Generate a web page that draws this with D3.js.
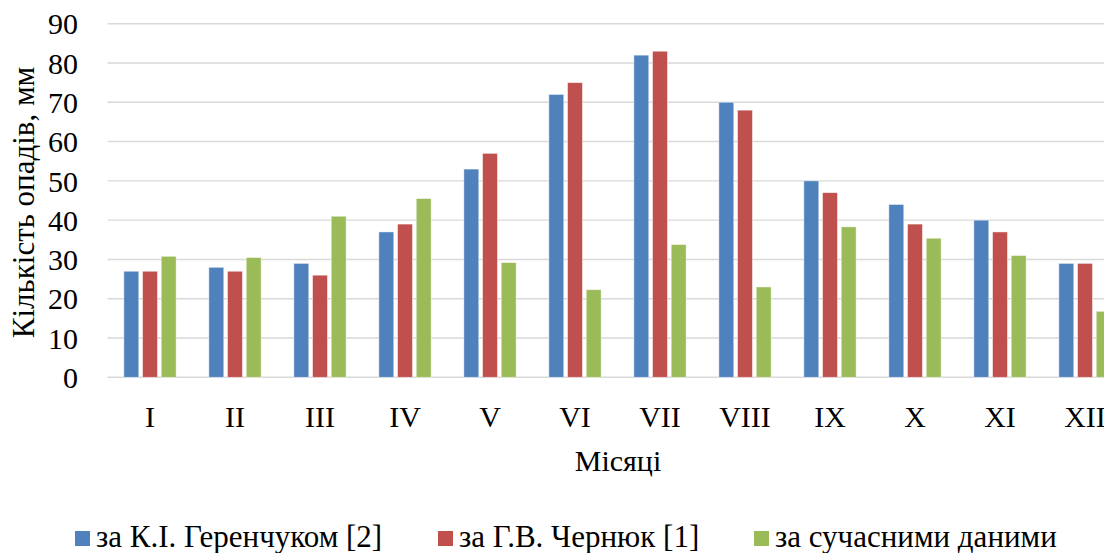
<!DOCTYPE html>
<html>
<head>
<meta charset="utf-8">
<script src="https://cdn.jsdelivr.net/npm/d3@7/dist/d3.min.js"></script>
<style>
  html, body { margin: 0; padding: 0; background: #fff; overflow: hidden; }
</style>
</head>
<body>
<svg id="chart" width="1104" height="553"></svg>
<script>
// Monthly precipitation, mm
const months = ["I", "II", "III", "IV", "V", "VI", "VII", "VIII", "IX", "X", "XI", "XII"];
const seriesNames = ["за К.І. Геренчуком [2]", "за Г.В. Чернюк [1]", "за сучасними даними"];
const gerenchuk = [27, 28, 29, 37, 53, 72, 82, 70, 50, 44, 40, 29];
const cherniuk  = [27, 27, 26, 39, 57, 75, 83, 68, 47, 39, 37, 29];
const modern    = [30.8, 30.5, 41, 45.5, 29.2, 22.3, 33.8, 23, 38.3, 35.4, 31, 16.8];
const yTicks = [0, 10, 20, 30, 40, 50, 60, 70, 80, 90];
const colors = ["#4F81BD", "#C0504D", "#9BBB59"];

const values = [gerenchuk, cherniuk, modern];
const svg = d3.select("#chart");
const FONT = 30;
const FAMILY = '"Liberation Serif", monospace';

const plot = { left: 107.5, right: 1127.5, top: 23.7, bottom: 377.3 };

const x0 = d3.scaleBand().domain(months).range([plot.left, plot.right]);
const groupWidth = 52.3;
const x1 = d3.scaleBand().domain(d3.range(3)).range([0, groupWidth]).paddingInner(0.2);
const y = d3.scaleLinear().domain([0, 90]).range([plot.bottom, plot.top]);

// gridlines
svg.append("g")
  .selectAll("line")
  .data(yTicks)
  .join("line")
  .attr("x1", plot.left)
  .attr("x2", 1104)
  .attr("y1", d => y(d))
  .attr("y2", d => y(d))
  .attr("stroke", "#d9d9d9")
  .attr("stroke-width", 1.4);

// y-axis tick labels
const yAxis = d3.axisLeft(y).tickValues(yTicks).tickSize(0).tickPadding(0);
svg.append("g")
  .attr("transform", "translate(78,0)")
  .call(yAxis)
  .call(g => g.select(".domain").remove())
  .call(g => g.selectAll("text")
    .style("font-family", FAMILY)
    .style("font-size", FONT + "px")
    .attr("fill", "#000")
    .attr("dy", "0.34em"));

// bars
const groups = svg.append("g")
  .selectAll("g")
  .data(months)
  .join("g")
  .attr("transform", d => `translate(${x0(d) + x0.bandwidth() / 2 - groupWidth / 2},0)`);

groups.selectAll("rect")
  .data((m, i) => values.map((s, k) => ({ k, v: s[i] })))
  .join("rect")
  .attr("x", d => x1(d.k))
  .attr("width", x1.bandwidth())
  .attr("y", d => y(d.v))
  .attr("height", d => y(0) - y(d.v))
  .attr("fill", d => colors[d.k])
  .attr("stroke", "#ffffff")
  .attr("stroke-opacity", 0.6)
  .attr("stroke-width", 0.8);

// x-axis labels
const xAxis = d3.axisBottom(x0).tickSize(0).tickPadding(0);
svg.append("g")
  .attr("transform", `translate(0,${plot.bottom})`)
  .call(xAxis)
  .call(g => g.select(".domain").remove())
  .call(g => g.selectAll("text")
    .style("font-family", FAMILY)
    .style("font-size", FONT + "px")
    .attr("fill", "#000")
    .attr("y", 50)
    .attr("dy", 0));

// axis titles
svg.append("text")
  .attr("transform", "translate(34,202.5) rotate(-90)")
  .attr("text-anchor", "middle")
  .style("font-family", FAMILY)
  .style("font-size", "31px")
  .text("Кількість опадів, мм");

svg.append("text")
  .attr("x", 618)
  .attr("y", 471)
  .attr("text-anchor", "middle")
  .style("font-family", FAMILY)
  .style("font-size", FONT + "px")
  .text("Місяці");

// legend
const legendX = [75, 438, 754];
const legend = svg.append("g")
  .selectAll("g")
  .data(seriesNames)
  .join("g")
  .attr("transform", (d, i) => `translate(${legendX[i]},0)`);

legend.append("rect")
  .attr("x", 0)
  .attr("y", 531)
  .attr("width", 15)
  .attr("height", 15)
  .attr("fill", (d, i) => colors[i]);

legend.append("text")
  .attr("x", 21)
  .attr("y", 547)
  .style("font-family", FAMILY)
  .style("font-size", "31px")
  .text(d => d);
</script>
</body>
</html>
